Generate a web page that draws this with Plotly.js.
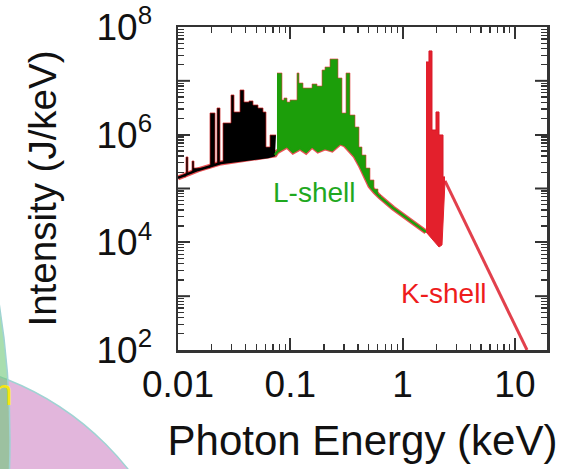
<!DOCTYPE html>
<html>
<head>
<meta charset="utf-8">
<script src="https://cdn.plot.ly/plotly-3.0.1.min.js"></script>
<style>
  html, body { margin: 0; padding: 0; background: #fff; }
  #chart { width: 567px; height: 469px; }
</style>
</head>
<body>
<div id="chart"></div>
<script>
// ---- data (photon energy in keV, intensity in J/keV) ----
// continuum under the M/L-shell emission
const contE = [0.0100, 0.01507, 0.02415, 0.03951, 0.0633, 0.0731,
               0.0761, 0.0810, 0.0935, 0.1057, 0.1221, 0.1380, 0.1561, 0.1765,
               0.2037, 0.2351, 0.2771, 0.3069, 0.3401, 0.3769, 0.4177, 0.4626,
               0.5125, 0.5679, 0.6292, 0.8214, 1.164, 1.616];
const contI = [1.57e5, 2.21e5, 2.98e5, 3.39e5, 3.85e5, 4.19e5,
               4.77e5, 5.19e5, 6.16e5, 4.77e5, 5.66e5, 4.77e5, 6.16e5, 4.98e5,
               5.66e5, 5.19e5, 7.0e5, 6.43e5, 5.19e5, 4.02e5, 2.73e5, 1.71e5,
               1.11e5, 8.61e4, 6.95e4, 4.35e4, 2.60e4, 1.56e4];
const blackEnd = 0.075;   // black band / green band boundary (keV)

// low-energy (black) line band: bin edges and bin tops
const blackEdgeE = [0.0100, 0.01178, 0.01227, 0.01333, 0.01388, 0.01928, 0.02136,
                    0.02225, 0.02366, 0.02516, 0.02965, 0.03153, 0.03565, 0.03870,
                    0.04287, 0.04655, 0.05158, 0.05715, 0.06074, 0.06596, 0.07459];
const blackTopI  = [1.65e5, 3.85e5, 1.94e5, 3.24e5, 2.40e5, 2.53e6, 2.85e5,
                    3.13e6, 2.98e5, 1.65e6, 5.46e6, 2.64e6, 6.76e6, 4.05e6,
                    4.23e6, 3.56e6, 3.13e6, 2.64e6, 5.91e5, 9.87e5];

// L-shell (green) band: bin edges and bin tops
const greenEdgeE = [0.07613, 0.08435, 0.08788, 0.09346, 0.09938, 0.1147, 0.1196,
                    0.1298, 0.1561, 0.1729, 0.1916, 0.2037, 0.2257, 0.2659, 0.2887,
                    0.3133, 0.3401, 0.3769, 0.4091, 0.4350, 0.4722, 0.5125, 0.5564,
                    0.6038, 0.6422];
const greenTopI  = [1.40e7, 4.41e6, 4.80e6, 4.05e6, 4.41e6, 1.40e7, 9.12e6,
                    7.36e6, 8.74e6, 8.02e6, 1.59e7, 1.81e7, 2.55e7, 1.13e7, 2.53e6,
                    1.40e7, 2.32e6, 1.39e6, 5.91e5, 4.19e5, 2.40e5, 1.44e5, 9.80e4,
                    7.57e4];

// K-shell (red) band
const kEdgeE = [1.616, 1.718, 1.827, 1.984, 2.110, 2.290, 2.386];
const kTopI  = [2.24e7, 3.59e7, 1.22e6, 2.64e6, 9.87e5, 1.64e5];
const kBaseE = [1.616, 2.110, 2.243, 2.337, 2.386];
const kBaseI = [1.56e4, 8.19e3, 8.93e3, 6.12e4, 1.38e5];

// high-energy tail
const tailE = [2.386, 12.82];
const tailI = [1.38e5, 100];

// axis ticks
const xTickVals = [0.01, 0.1, 1, 10];
const xTickText = ['0.01', '0.1', '1', '10'];
const yTickVals = [1e2, 1e4, 1e6, 1e8];
const yTickText = ['10<sup>2</sup>', '10<sup>4</sup>', '10<sup>6</sup>', '10<sup>8</sup>'];
const yOddDecades = [1e3, 1e5, 1e7];

// ---- build traces ----
function stepY(tops) { return tops.concat([tops[tops.length - 1]]); }
const blackBaseE = contE.filter(e => e <= blackEnd);
const blackBaseI = contI.filter((v, i) => contE[i] <= blackEnd);
const gLast = greenEdgeE[greenEdgeE.length - 1] + 0.001;
const greenBaseE = contE.filter(e => e > blackEnd && e <= gLast);
const greenBaseI = contI.filter((v, i) => contE[i] > blackEnd && contE[i] <= gLast);
const greenLineE = contE.filter(e => e >= 0.0731);
const greenLineI = contI.filter((v, i) => contE[i] >= 0.0731);

const RED = '#e3202c';
const GREEN = '#1c9e0a';
const common = { type: 'scatter', mode: 'lines', hoverinfo: 'skip', showlegend: false };

const traces = [
  Object.assign({}, common, { x: contE, y: contI, line: { color: 'rgba(232,50,55,0.85)', width: 5 } }),
  Object.assign({}, common, { x: tailE, y: tailI, line: { color: '#e2404c', width: 3 } }),
  // black band
  Object.assign({}, common, { x: blackBaseE, y: blackBaseI, line: { width: 0 } }),
  Object.assign({}, common, { x: blackEdgeE, y: stepY(blackTopI), line: { shape: 'hv', color: 'rgba(200,30,30,0.7)', width: 1 },
                              fill: 'tonexty', fillcolor: '#000000' }),
  Object.assign({}, common, { x: blackBaseE, y: blackBaseI, line: { color: '#000', width: 2.5 } }),
  // green band
  Object.assign({}, common, { x: greenBaseE, y: greenBaseI, line: { width: 0 } }),
  Object.assign({}, common, { x: greenEdgeE, y: stepY(greenTopI), line: { shape: 'hv', color: 'rgba(225,60,60,0.6)', width: 1 },
                              fill: 'tonexty', fillcolor: GREEN }),
  Object.assign({}, common, { x: greenLineE, y: greenLineI, line: { color: GREEN, width: 2.5 } }),
  // K-shell band
  Object.assign({}, common, { x: kBaseE, y: kBaseI, line: { color: RED, width: 1 } }),
  Object.assign({}, common, { x: kEdgeE, y: stepY(kTopI), line: { shape: 'hv', color: '#d81828', width: 1 },
                              fill: 'tonexty', fillcolor: RED })
];

const FONT = 'Liberation Sans, Arial, Helvetica, sans-serif';
const L = 178, R = 20, T = 27, B = 119;
const W = 567 - L - R, H = 469 - T - B;
const px = v => (v - L) / W;           // page pixel -> paper x
const py = v => (469 - B - v) / H;     // page pixel -> paper y

const axisCommon = {
  type: 'log',
  showgrid: false, zeroline: false,
  showline: true, linewidth: 2.5, linecolor: '#333',
  mirror: 'allticks',
  ticks: 'inside', ticklen: 12, tickwidth: 2, tickcolor: '#333',
  tickmode: 'array',
  tickfont: { family: FONT, size: 37, color: '#111' },
  minor: { ticks: 'inside', ticklen: 6, tickwidth: 1.3, tickcolor: '#333', dtick: 'D1', showgrid: false }
};

// long ticks at the unlabelled decades (left and right frame)
const decadeTicks = [];
yOddDecades.forEach(v => {
  decadeTicks.push({ type: 'line', xref: 'paper', yref: 'y', x0: 0, x1: 12 / W, y0: v, y1: v,
                     line: { color: '#333', width: 2 } });
  decadeTicks.push({ type: 'line', xref: 'paper', yref: 'y', x0: 1 - 12 / W, x1: 1, y0: v, y1: v,
                     line: { color: '#333', width: 2 } });
});

const layout = {
  width: 567, height: 469,
  margin: { l: L, r: R, t: T, b: B, pad: 0 },
  paper_bgcolor: '#fff', plot_bgcolor: '#fff',
  showlegend: false,
  xaxis: Object.assign({}, axisCommon, {
    range: [-2, 1.286],
    tickvals: xTickVals, ticktext: xTickText,
    title: { text: 'Photon Energy (keV)', font: { family: FONT, size: 42, color: '#111' }, standoff: 22 }
  }),
  yaxis: Object.assign({}, axisCommon, {
    range: [2, 8],
    tickvals: yTickVals, ticktext: yTickText,
    ticklabelstandoff: 16,
    title: { text: 'Intensity (J/keV)', font: { family: FONT, size: 38.5, color: '#111' }, standoff: 28 }
  }),
  shapes: [
    { type: 'circle', xref: 'paper', yref: 'paper', layer: 'below',
      x0: px(-391), x1: px(191), y0: py(941), y1: py(359),
      fillcolor: '#e2b6dc', line: { color: '#9fd3d3', width: 1.5 } },
    { type: 'circle', xref: 'paper', yref: 'paper', layer: 'below',
      x0: px(-1690), x1: px(10), y0: py(1290), y1: py(-410),
      fillcolor: 'rgba(110,200,120,0.6)', line: { color: '#9fd3d3', width: 1.5 } }
  ].concat(decadeTicks),
  annotations: [
    { text: 'L-shell', xref: 'paper', yref: 'paper', x: px(314), y: py(193), xanchor: 'center', yanchor: 'middle',
      showarrow: false, font: { family: FONT, size: 28, color: '#1fa81f' } },
    { text: 'K-shell', xref: 'paper', yref: 'paper', x: px(444), y: py(293), xanchor: 'center', yanchor: 'middle',
      showarrow: false, font: { family: FONT, size: 28, color: '#ee1c1c' } },
    { text: 'n', xref: 'paper', yref: 'paper', x: px(-9), y: py(392), xanchor: 'left', yanchor: 'middle',
      showarrow: false, font: { family: FONT, size: 36, color: '#f5e614' } }
  ]
};

Plotly.newPlot('chart', traces, layout, { staticPlot: true, displayModeBar: false });
</script>
</body>
</html>
